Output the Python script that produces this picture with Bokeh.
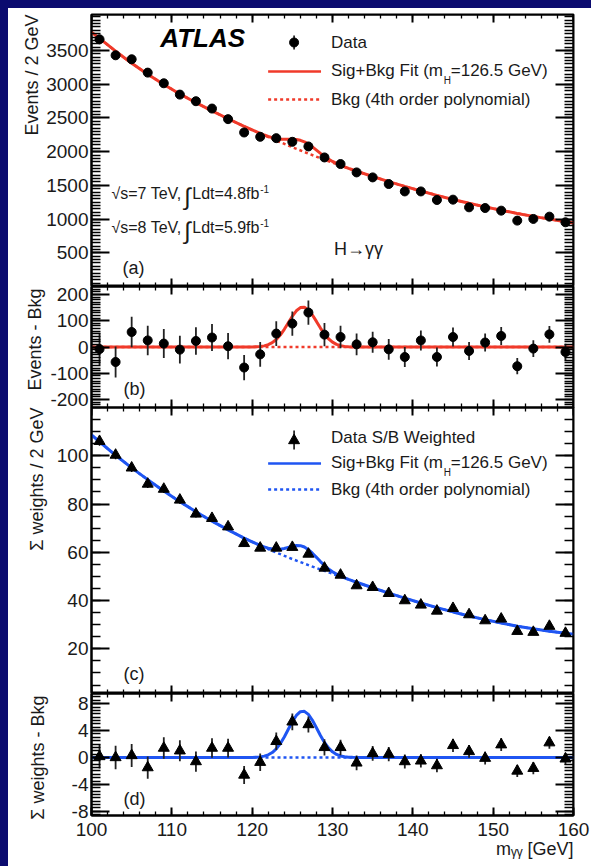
import numpy as np
from bokeh.plotting import figure
from bokeh.layouts import column
from bokeh.models import Range1d, LinearAxis, FixedTicker, SingleIntervalTicker, Label, Title
from bokeh.embed import file_html
from bokeh.resources import INLINE

# ---------------- data ----------------
mass = [101, 103, 105, 107, 109, 111, 113, 115, 117, 119, 121, 123, 125, 127, 129,
        131, 133, 135, 137, 139, 141, 143, 145, 147, 149, 151, 153, 155, 157, 159]
events = [3666, 3429, 3370, 3172, 3014, 2846, 2748, 2639, 2482, 2284, 2220, 2200, 2146, 2077, 1914,
          1816, 1692, 1618, 1520, 1410, 1410, 1283, 1288, 1174, 1164, 1125, 977, 1002, 1036, 952]
events_err = [60, 59, 58, 56, 55, 53, 52, 51, 50, 48, 47, 47, 46, 46, 44,
              43, 41, 40, 39, 38, 38, 36, 36, 34, 34, 34, 31, 32, 32, 31]
events_resid = [-8, -57, 57, 25, 13, -10, 23, 36, 3, -78, -28, 51, 89, 131, 47,
                38, 10, 18, -9, -38, 25, -38, 38, -15, 17, 42, -73, -6, 48, -19]
wsum = [106.0, 100.3, 95.0, 88.3, 86.2, 81.7, 75.9, 74.1, 70.6, 63.7, 61.8, 61.8, 62.1, 59.3, 53.5,
        50.6, 46.2, 45.5, 43.0, 40.0, 38.2, 35.7, 36.8, 34.2, 31.7, 32.4, 27.3, 26.9, 29.4, 26.5]
wsum_err = [1.8, 1.75, 1.7, 1.65, 1.6, 1.55, 1.5, 1.45, 1.4, 1.35, 1.3, 1.3, 1.25, 1.2, 1.2,
            1.15, 1.1, 1.1, 1.05, 1.05, 1.0, 1.0, 1.0, 0.95, 0.95, 0.95, 0.9, 0.9, 0.9, 0.9]
wsum_resid = [0.15, 0.0, 0.3, -1.5, 1.4, 1.0, -0.6, 1.4, 1.4, -2.6, -0.7, 2.4, 5.3, 4.9, 1.5,
              1.5, -0.8, 0.6, 0.5, -0.6, -0.5, -1.2, 1.8, 0.9, -0.1, 1.9, -2.0, -1.6, 2.2, -0.2]

# background (4th order polynomial) curves, read at knots
bkg_x = [100, 101, 103, 105, 107, 109, 111, 113, 115, 117, 119, 121, 123, 125, 127, 129,
         131, 133, 135, 137, 139, 141, 143, 145, 147, 149, 151, 153, 155, 157, 159, 160]
bkg_events = [3770, 3680, 3490, 3312, 3148, 2996, 2856, 2726, 2604, 2488, 2376, 2268, 2165, 2066, 1971, 1880,
              1793, 1710, 1631, 1556, 1485, 1417, 1352, 1290, 1234, 1181, 1131, 1084, 1040, 999, 961, 943]
bkg_wsum = [108.6, 105.8, 100.2, 95.0, 90.1, 85.4, 81.0, 76.8, 72.9, 69.3, 65.9, 62.8, 59.9, 57.2, 54.7, 52.3,
            49.9, 47.6, 45.3, 43.1, 41.0, 39.0, 37.1, 35.3, 33.6, 32.1, 30.7, 29.4, 28.3, 27.3, 26.5, 26.1]

# signal component of the fit (mH = 126.5 GeV), read around the peak
sig_x = [120, 120.5, 121, 121.5, 122, 122.5, 123, 123.5, 124, 124.5, 125, 125.5, 126, 126.5,
         127, 127.5, 128, 128.5, 129, 129.5, 130, 130.5, 131, 131.5, 132, 132.5, 133]
sig_events = [0.3, 0.9, 2.0, 4.3, 8.8, 16.4, 28.3, 45.3, 67.2, 92.2, 117, 137.7, 149.9, 151.1,
              141, 121.7, 97.3, 72, 49.4, 31.3, 18.4, 10, 5, 2.3, 1.0, 0.4, 0.1]
sig_wsum = [0.01, 0.04, 0.09, 0.2, 0.4, 0.74, 1.28, 2.06, 3.05, 4.19, 5.31, 6.25, 6.81, 6.86,
            6.40, 5.53, 4.42, 3.27, 2.24, 1.42, 0.84, 0.45, 0.23, 0.10, 0.05, 0.02, 0.0]

# ---------------- derived curves ----------------
fit_x = sorted([x for x in bkg_x if x < sig_x[0] or x > sig_x[-1]] + sig_x)
fit_events = np.interp(fit_x, bkg_x, bkg_events) + np.interp(fit_x, sig_x, sig_events, left=0, right=0)
fit_wsum = np.interp(fit_x, bkg_x, bkg_wsum) + np.interp(fit_x, sig_x, sig_wsum, left=0, right=0)
res_x = [bkg_x[0]] + sig_x + [bkg_x[-1]]
res_events = [0] + sig_events + [0]
res_wsum = [0] + sig_wsum + [0]
zero_line = [0] * len(bkg_x)

# ---------------- styling / geometry ----------------
RED = "#f03a2a"
BLUE = "#1f55f2"
TEXT = "#1a1a1a"
FONT = "Liberation Sans"

FRAME_L, FRAME_R = 90, 573          # page pixels of x=100 and x=160
PANELS = {                          # page px top, bottom, y0, y1
    "a": (14, 286, 0.0, 4034.0),
    "b": (286, 407, -230.0, 230.0),
    "c": (407, 693, 1.5, 120.0),
    "d": (693, 815, -8.62, 9.51),
}


def X(px):
    return 100 + (px - FRAME_L) * 60.0 / (FRAME_R - FRAME_L)


def Y(k, py):
    top, bot, y0, y1 = PANELS[k]
    return y0 + (bot - py) * (y1 - y0) / (bot - top)


xr = Range1d(100, 160)


def panel(k, top_border, bottom_border, overlap_top=0, overlap_bottom=0):
    top, bot, y0, y1 = PANELS[k]
    h = (bot - top) + top_border + bottom_border + overlap_top + overlap_bottom
    p = figure(width=583, height=h, x_range=xr, y_range=Range1d(y0, y1),
               output_backend="svg", toolbar_location=None, tools="",
               x_axis_location=None, y_axis_location="left",
               min_border_left=82, min_border_right=18,
               min_border_top=top_border + overlap_top,
               min_border_bottom=bottom_border + overlap_bottom)
    p.xgrid.visible = False
    p.ygrid.visible = False
    p.outline_line_color = "black"
    p.outline_line_width = 2
    p.background_fill_color = "white"
    p.border_fill_color = None
    if overlap_top or overlap_bottom:
        p.styles = {"margin-top": f"-{overlap_top}px", "margin-bottom": f"-{overlap_bottom}px"}
    return p


def style_axis(ax, tick_in, minor_in, labels, standoff=3):
    ax.major_tick_in = tick_in
    ax.major_tick_out = 0
    ax.minor_tick_in = minor_in
    ax.minor_tick_out = 0
    ax.axis_line_width = 2
    ax.axis_line_color = "black"
    ax.major_tick_line_width = 2
    ax.minor_tick_line_width = 1.3
    ax.major_tick_line_color = "black"
    ax.minor_tick_line_color = "black"
    ax.major_label_text_font = FONT
    ax.major_label_text_font_size = "19px"
    ax.major_label_text_color = TEXT if labels else None
    ax.major_label_standoff = standoff


def frame_axes(p, k, majors, minors, bottom_labels=False):
    top, bot, y0, y1 = PANELS[k]
    ax = p.yaxis[0]
    style_axis(ax, 18, 9, True)
    ax.ticker = FixedTicker(ticks=majors, minor_ticks=minors)
    ax.major_label_overrides = {m: ("-" + str(abs(m)) if m < 0 else str(m)) for m in majors}
    r = LinearAxis(ticker=FixedTicker(ticks=majors, minor_ticks=minors), fixed_location=160)
    style_axis(r, 18, 9, False)
    p.add_layout(r, "right")
    t = LinearAxis(ticker=SingleIntervalTicker(interval=10, num_minor_ticks=5), fixed_location=y1)
    style_axis(t, 8, 4, False)
    p.add_layout(t, "above")
    if bottom_labels:
        b = LinearAxis(ticker=SingleIntervalTicker(interval=10, num_minor_ticks=5))
        style_axis(b, 8, 4, True, standoff=7)
    else:
        b = LinearAxis(ticker=SingleIntervalTicker(interval=10, num_minor_ticks=5), fixed_location=y0)
        style_axis(b, 8, 4, False)
    p.add_layout(b, "below")


def ytitle(p, text, standoff, offset):
    p.add_layout(Title(text=text, align="right", vertical_align="top", standoff=standoff, offset=offset,
                       text_font=FONT, text_font_size="18px", text_font_style="normal",
                       text_color=TEXT), "left")


def txt(p, x, y, s, size, align="left", baseline="middle", style="normal", color=TEXT):
    p.add_layout(Label(x=x, y=y, text=s, text_font=FONT, text_font_size=f"{size}px",
                       text_font_style=style, text_color=color, text_align=align,
                       text_baseline=baseline))


def legend_fit(p, k, color, y_solid, y_dash):
    x0, x1 = X(267), X(320)
    p.line([x0, x1], [Y(k, y_solid)] * 2, line_color=color, line_width=2.5)
    p.line([x0, x1], [Y(k, y_dash)] * 2, line_color=color, line_width=2.5, line_dash="3 3")
    txt(p, X(330), Y(k, y_solid - 1), "Sig+Bkg Fit  (m", 17)
    txt(p, X(443), Y(k, y_solid + 9), "H", 10)
    txt(p, X(450), Y(k, y_solid - 1), "=126.5 GeV)", 17)
    txt(p, X(330), Y(k, y_dash), "Bkg (4th order polynomial)", 17)


# ---------------- panel (a) ----------------
pa = panel("a", 6, 0)
frame_axes(pa, "a", [500, 1000, 1500, 2000, 2500, 3000, 3500], list(np.arange(0, 4001, 50)))
pa.line(bkg_x, bkg_events, line_color=RED, line_width=2.5, line_dash="3 3")
pa.line(fit_x, fit_events, line_color=RED, line_width=3)
pa.segment(x0=mass, x1=mass, y0=np.array(events) - np.array(events_err),
           y1=np.array(events) + np.array(events_err), line_color="black", line_width=1.5)
pa.scatter(mass, events, marker="circle", size=9, color="black")
txt(pa, X(159), Y("a", 37.5), "ATLAS", 26, style="bold italic", color="black")
pa.segment(x0=[X(293)], x1=[X(293)], y0=[Y("a", 49)], y1=[Y("a", 35)], line_color="black", line_width=1.5)
pa.scatter([X(293)], [Y("a", 42)], marker="circle", size=9, color="black")
txt(pa, X(330), Y("a", 42), "Data", 17)
legend_fit(pa, "a", RED, 71, 99)
for py, s, lumi in ((193, "7", "4.8"), (227, "8", "5.9")):
    txt(pa, X(110), Y("a", py), "\u221as=" + s + " TeV,", 16)
    txt(pa, X(183), Y("a", py + 3), "\u222b", 24)
    txt(pa, X(191), Y("a", py), "Ldt=" + lumi + "fb", 16)
    txt(pa, X(259), Y("a", py - 5), "-1", 10)
txt(pa, X(333), Y("a", 248), "H\u2192\u03b3\u03b3", 18)
txt(pa, X(121), Y("a", 267), "(a)", 18)
ytitle(pa, "Events / 2 GeV", 0, 0)

# ---------------- panel (b) ----------------
pb = panel("b", 0, 0, overlap_top=4, overlap_bottom=6)
frame_axes(pb, "b", [-200, -100, 0, 100, 200], list(np.arange(-230, 231, 10)))
pb.line(bkg_x, zero_line, line_color=RED, line_width=2.5, line_dash="3 3")
pb.line(res_x, res_events, line_color=RED, line_width=3)
pb.segment(x0=mass, x1=mass, y0=np.array(events_resid) - np.array(events_err),
           y1=np.array(events_resid) + np.array(events_err), line_color="#222222", line_width=1.8)
pb.scatter(mass, events_resid, marker="circle", size=9, color="black")
txt(pb, X(122), Y("b", 388), "(b)", 18)
ytitle(pb, "Events - Bkg", 2, 2)

# ---------------- panel (c) ----------------
pc = panel("c", 0, 0)
frame_axes(pc, "c", [20, 40, 60, 80, 100], list(np.arange(0, 121, 5)))
pc.line(bkg_x, bkg_wsum, line_color=BLUE, line_width=2.5, line_dash="3 3")
pc.line(fit_x, fit_wsum, line_color=BLUE, line_width=3)
pc.segment(x0=mass, x1=mass, y0=np.array(wsum) - np.array(wsum_err),
           y1=np.array(wsum) + np.array(wsum_err), line_color="black", line_width=1.5)
pc.scatter(mass, wsum, marker="triangle", size=11, color="black")
pc.segment(x0=[X(293)], x1=[X(293)], y0=[Y("c", 449)], y1=[Y("c", 430)], line_color="black", line_width=1.5)
pc.scatter([X(293)], [Y("c", 440)], marker="triangle", size=11, color="black")
txt(pc, X(330), Y("c", 437), "Data S/B Weighted", 17)
legend_fit(pc, "c", BLUE, 463, 489)
txt(pc, X(122), Y("c", 673), "(c)", 18)
ytitle(pc, "\u03a3 weights / 2 GeV", 10, 0)

# ---------------- panel (d) ----------------
pd_ = panel("d", 0, 51)
frame_axes(pd_, "d", [-8, -4, 0, 4, 8], list(np.arange(-8.5, 9.6, 0.5)), bottom_labels=True)
pd_.line(bkg_x, zero_line, line_color=BLUE, line_width=2.5, line_dash="3 3")
pd_.line(res_x, res_wsum, line_color=BLUE, line_width=3)
pd_.segment(x0=mass, x1=mass, y0=np.array(wsum_resid) - np.array(wsum_err),
            y1=np.array(wsum_resid) + np.array(wsum_err), line_color="#222222", line_width=1.8)
pd_.scatter(mass, wsum_resid, marker="triangle", size=11, color="black")
txt(pd_, X(122), Y("d", 798), "(d)", 18)
ytitle(pd_, "\u03a3 weights - Bkg", 38, 2)
pd_.add_layout(Title(text="m\u1d67\u1d67 [GeV]", align="right", vertical_align="top", standoff=0, offset=0,
                     text_font=FONT, text_font_size="18px", text_font_style="normal",
                     text_color=TEXT), "below")

layout = column(pa, pb, pc, pd_, spacing=0)

template = """
{% block postamble %}
<style>
html { background-color: #0b0b6f; margin: 0; padding: 0; overflow: hidden; }
body { background-color: #ffffff; margin: 8px 0 0 8px; padding: 0; width: 583px; height: auto; }
</style>
{% endblock %}
"""

open("out.html", "w").write(file_html(layout, INLINE, "ATLAS H to gamma gamma", template=template))
